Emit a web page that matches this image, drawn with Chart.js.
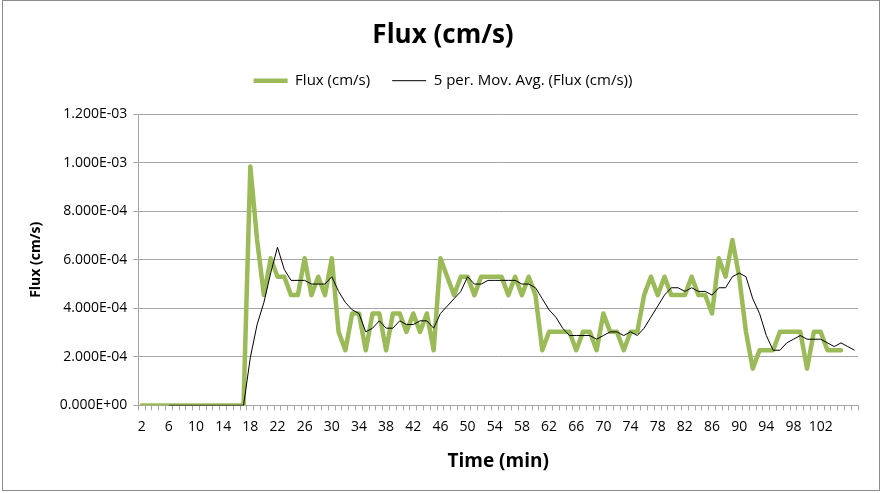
<!DOCTYPE html>
<html>
<head>
<meta charset="utf-8">
<script src="https://cdn.jsdelivr.net/npm/chart.js@4"></script>
<style>
  html, body { margin: 0; padding: 0; background: #fff; }
  #box { position: absolute; left: 0; top: 0; width: 883px; height: 493px; }
</style>
</head>
<body>
<div id="box"><canvas id="chart"></canvas></div>
<script>
// Time (min) categories, 2 .. 107
const timeLabels = [];
for (let t = 2; t <= 107; t++) timeLabels.push(String(t));

// Flux (cm/s)
const flux = [
  0, 0, 0, 0, 0, 0, 0, 0, 0, 0, 0, 0, 0, 0, 0, 0,
  9.848e-4, 6.818e-4, 4.545e-4, 6.061e-4, 5.303e-4, 5.303e-4, 4.545e-4, 4.545e-4,
  6.061e-4, 4.545e-4, 5.303e-4, 4.545e-4, 6.061e-4, 3.030e-4, 2.273e-4, 3.788e-4,
  3.788e-4, 2.273e-4, 3.788e-4, 3.788e-4, 2.273e-4, 3.788e-4, 3.788e-4, 3.030e-4,
  3.788e-4, 3.030e-4, 3.788e-4, 2.273e-4, 6.061e-4, 5.303e-4, 4.545e-4, 5.303e-4,
  5.303e-4, 4.545e-4, 5.303e-4, 5.303e-4, 5.303e-4, 5.303e-4, 4.545e-4, 5.303e-4,
  4.545e-4, 5.303e-4, 4.545e-4, 2.273e-4, 3.030e-4, 3.030e-4, 3.030e-4, 3.030e-4,
  2.273e-4, 3.030e-4, 3.030e-4, 2.273e-4, 3.788e-4, 3.030e-4, 3.030e-4, 2.273e-4,
  3.030e-4, 3.030e-4, 4.545e-4, 5.303e-4, 4.545e-4, 5.303e-4, 4.545e-4, 4.545e-4,
  4.545e-4, 5.303e-4, 4.545e-4, 4.545e-4, 3.788e-4, 6.061e-4, 5.303e-4, 6.818e-4,
  5.303e-4, 3.030e-4, 1.515e-4, 2.273e-4, 2.273e-4, 2.273e-4, 3.030e-4, 3.030e-4,
  3.030e-4, 3.030e-4, 1.515e-4, 3.030e-4, 3.030e-4, 2.273e-4, 2.273e-4, 2.273e-4
];

// 5 per. moving average trend line
const movAvg = [
  null, null, null, null,
  0, 0, 0, 0, 0, 0, 0, 0, 0, 0, 0, 0,
  1.970e-4, 3.333e-4, 4.242e-4, 5.455e-4, 6.515e-4, 5.606e-4, 5.152e-4, 5.152e-4,
  5.152e-4, 5.000e-4, 5.000e-4, 5.000e-4, 5.303e-4, 4.697e-4, 4.242e-4, 3.939e-4,
  3.788e-4, 3.030e-4, 3.182e-4, 3.485e-4, 3.182e-4, 3.182e-4, 3.485e-4, 3.333e-4,
  3.333e-4, 3.485e-4, 3.485e-4, 3.182e-4, 3.788e-4, 4.091e-4, 4.394e-4, 4.697e-4,
  5.303e-4, 5.000e-4, 5.000e-4, 5.152e-4, 5.152e-4, 5.152e-4, 5.152e-4, 5.152e-4,
  5.000e-4, 5.000e-4, 4.848e-4, 4.394e-4, 3.939e-4, 3.636e-4, 3.182e-4, 2.879e-4,
  2.879e-4, 2.879e-4, 2.879e-4, 2.727e-4, 2.879e-4, 3.030e-4, 3.030e-4, 2.879e-4,
  3.030e-4, 2.879e-4, 3.182e-4, 3.636e-4, 4.091e-4, 4.545e-4, 4.848e-4, 4.848e-4,
  4.697e-4, 4.848e-4, 4.697e-4, 4.697e-4, 4.545e-4, 4.848e-4, 4.848e-4, 5.303e-4,
  5.455e-4, 5.303e-4, 4.394e-4, 3.788e-4, 2.879e-4, 2.273e-4, 2.273e-4, 2.576e-4,
  2.727e-4, 2.879e-4, 2.727e-4, 2.727e-4, 2.727e-4, 2.576e-4, 2.424e-4, 2.576e-4,
  2.424e-4, 2.273e-4
];

const FONT = "'Open Sans', sans-serif";
const GRID = '#a6a6a6';

// Excel style 0.000E+00
function sci(v) {
  const parts = Number(v).toExponential(3).split('e');
  const sign = parts[1][0];
  const digits = parts[1].slice(1).padStart(2, '0');
  return parts[0] + 'E' + sign + digits;
}

const frame = {
  id: 'frame',
  beforeDraw(chart) {
    const c = chart.ctx;
    c.save();
    c.fillStyle = '#fff';
    c.fillRect(0, 0, chart.width, chart.height);
    c.strokeStyle = '#8c8c8c';
    c.lineWidth = 1;
    c.strokeRect(2.5, 0.5, 877, 490);
    c.restore();
  }
};

// extra room under the legend, like the Excel plot area gap
const legendGap = {
  id: 'legendGap',
  beforeInit(chart) {
    const fit = chart.legend.fit;
    chart.legend.fit = function () {
      fit.call(this);
      this.height += 16;
    };
  }
};

new Chart(document.getElementById('chart'), {
  type: 'line',
  data: {
    labels: timeLabels,
    datasets: [
      {
        label: 'Flux (cm/s)',
        data: flux,
        borderColor: '#9bbb59',
        backgroundColor: '#9bbb59',
        borderWidth: 4.5,
        borderJoinStyle: 'round',
        borderCapStyle: 'round',
        pointRadius: 0,
        tension: 0,
        order: 2
      },
      {
        label: '5 per. Mov. Avg. (Flux (cm/s))',
        data: movAvg,
        borderColor: '#000',
        backgroundColor: '#000',
        borderWidth: 1,
        pointRadius: 0,
        tension: 0,
        order: 1
      }
    ]
  },
  options: {
    responsive: true,
    maintainAspectRatio: false,
    animation: false,
    layout: { padding: { left: 28, right: 25, top: 0, bottom: 12 } },
    plugins: {
      title: {
        display: true,
        text: 'Flux (cm/s)',
        color: '#000',
        font: { family: FONT, size: 26, weight: 'bold' },
        padding: { top: 20, bottom: 0 }
      },
      legend: {
        display: true,
        labels: {
          color: '#000',
          font: { family: FONT, size: 15 },
          usePointStyle: true,
          pointStyle: 'line',
          pointStyleWidth: 34,
          boxHeight: 14,
          padding: 22,
          sort: (a, b) => a.datasetIndex - b.datasetIndex
        }
      },
      tooltip: { enabled: false }
    },
    scales: {
      x: {
        offset: true,
        grid: {
          display: true,
          offset: true,
          drawOnChartArea: false,
          drawTicks: true,
          tickLength: 5,
          color: GRID
        },
        border: { color: GRID },
        ticks: {
          autoSkip: false,
          maxRotation: 0,
          padding: 8,
          color: '#000',
          font: { family: FONT, size: 14 },
          callback: (v, i) => (i % 4 === 0 && i <= 100 ? timeLabels[i] : '')
        },
        title: {
          display: true,
          text: 'Time (min)',
          color: '#000',
          font: { family: FONT, size: 19, weight: 'bold' },
          padding: { top: 7, bottom: 8 }
        }
      },
      y: {
        min: 0,
        max: 1.2e-3,
        grid: { color: GRID, tickLength: 5 },
        border: { color: GRID },
        ticks: {
          stepSize: 2e-4,
          padding: 6,
          color: '#000',
          font: { family: FONT, size: 14 },
          callback: v => sci(v)
        },
        title: {
          display: true,
          text: 'Flux (cm/s)',
          color: '#000',
          font: { family: FONT, size: 14, weight: 'bold' },
          padding: { top: 0, bottom: 9 }
        }
      }
    }
  },
  plugins: [frame, legendGap]
});
</script>
</body>
</html>
